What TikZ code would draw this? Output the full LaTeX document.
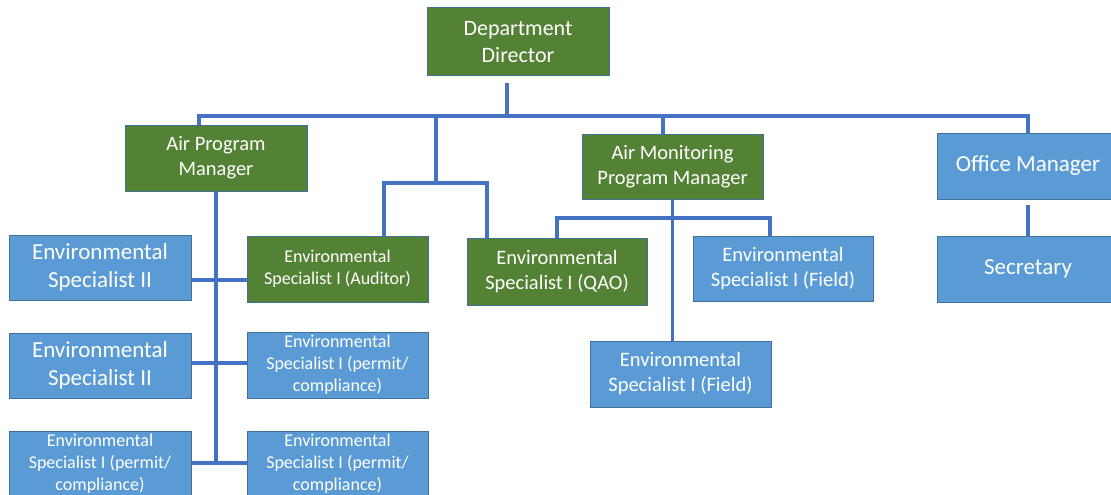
\documentclass[tikz,border=0pt]{standalone}
\usepackage{fontspec}
\setmainfont{Carlito}
\usepackage{tikz}
\usepackage{xcolor}
\definecolor{boxgreen}{RGB}{84,130,53}
\definecolor{boxblue}{RGB}{91,155,213}
\definecolor{boxedge}{RGB}{65,113,156}
\definecolor{linkblue}{RGB}{68,114,196}
\tikzset{
    org-box/.style = {draw=boxedge, line width=1pt, text=white, rectangle, inner sep=0pt, minimum width=182pt, minimum height=66pt, align=center},
    green-box/.style = {org-box, fill=boxgreen},
    blue-box/.style = {org-box, fill=boxblue},
    large-text/.style = {font=\fontsize{23}{28}\selectfont},
    mid-text/.style = {font=\fontsize{20.5}{25}\selectfont},
    small-text/.style = {font=\fontsize{18}{22}\selectfont},
    org-line/.style = {draw=linkblue, line width=3.5pt},
}

\begin{document}
\begin{tikzpicture}[x=1pt, y=-1pt]
\clip (0,0) rectangle (1111,495);
% top and managers
\node [green-box, font=\fontsize{22}{27}\selectfont, minimum height=68pt] (director) at (518,42) {Department\\Director};
\node [green-box, mid-text] (apm) at (216,158) {Air Program\\Manager};
\node [green-box, mid-text, minimum width=181pt, minimum height=65pt] (amp) at (672.5,166.5) {Air Monitoring\\Program Manager};
\node [blue-box, large-text] (office) at (1028,166) {Office Manager};
\node [blue-box, large-text] (secretary) at (1028,269) {Secretary};

% air program staff
\node [blue-box, large-text, minimum height=65pt] (spec2-a) at (100,267.5) {Environmental\\Specialist II};
\node [blue-box, large-text, minimum height=65pt] (spec2-b) at (100,365.5) {Environmental\\Specialist II};
\node [blue-box, small-text] (spec1-c) at (100,464) {Environmental\\Specialist I (permit/\\compliance)};
\node [green-box, small-text, minimum width=181pt] (auditor) at (337.5,269) {Environmental\\Specialist I (Auditor)};
\node [blue-box, small-text, minimum width=181pt] (permit-a) at (337.5,365) {Environmental\\Specialist I (permit/\\compliance)};
\node [blue-box, small-text, minimum width=181pt] (permit-b) at (337.5,464) {Environmental\\Specialist I (permit/\\compliance)};

% air monitoring staff
\node [green-box, mid-text, minimum width=180pt, minimum height=67pt] (qao) at (557,271.5) {Environmental\\Specialist I (QAO)};
\node [blue-box, mid-text, minimum width=180pt, minimum height=65pt] (field-a) at (783,268.5) {Environmental\\Specialist I (Field)};
\node [blue-box, mid-text, minimum width=181pt] (field-b) at (680.5,374) {Environmental\\Specialist I (Field)};

% connectors
\coordinate (dir-stem) at (507,83);
\coordinate (bus-left) at (199,116);
\coordinate (bus-right) at (1028,116);
\coordinate (aq-stem) at (436,116);
\coordinate (amp-drop) at (663,116);
\coordinate (aq-left) at (384,183);
\coordinate (aq-right) at (487,183);
\coordinate (am-left) at (557,218);
\coordinate (am-right) at (770,218);
\coordinate (row-a) at (0,280);
\coordinate (row-b) at (0,363);
\coordinate (row-c) at (0,463);

\draw [org-line] (dir-stem) -- (dir-stem |- bus-left);
\draw [org-line] (bus-left |- apm.north) -- (bus-left) -- (bus-right) -- (office.north);
\draw [org-line] (aq-stem) -- (aq-stem |- aq-left);
\draw [org-line] (aq-left |- auditor.north) -- (aq-left) -- (aq-right) -- (aq-right |- qao.north);
\draw [org-line] (amp-drop) -- (amp-drop |- amp.north);
\draw [org-line] (qao.north) -- (am-left) -- (am-right) -- (am-right |- field-a.north);
\draw [org-line] (amp.south) -- (amp.south |- field-b.north);
\draw [org-line] ([yshift=-5pt]office.south) -- (secretary.north);
\draw [org-line] (apm.south) -- (apm.south |- row-c);
\foreach \l/\r/\row in {spec2-a/auditor/row-a, spec2-b/permit-a/row-b, spec1-c/permit-b/row-c}
    \draw [org-line] (\l.east |- \row) -- (\r.west |- \row);
\end{tikzpicture}
\end{document}
